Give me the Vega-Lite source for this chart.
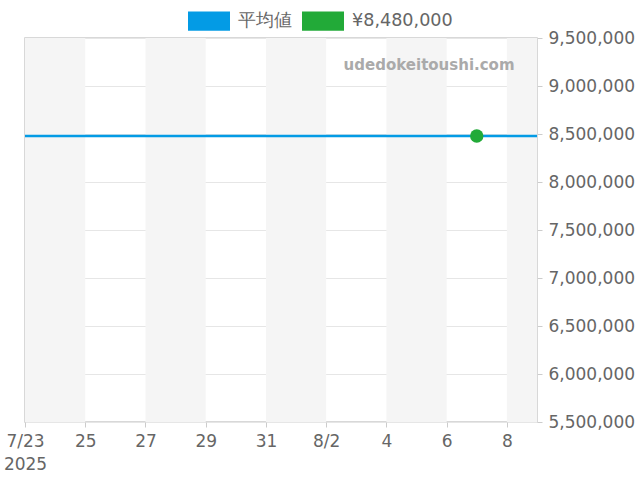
{
  "$schema": "https://vega.github.io/schema/vega-lite/v6.json",
  "width": 512,
  "height": 384,
  "autosize": {"type": "none"},
  "padding": {"left": 25, "top": 38, "right": 103, "bottom": 58},
  "background": "white",
  "config": {
    "font": "DejaVu Sans",
    "view": {"stroke": "#cccccc", "strokeWidth": 1.5},
    "axis": {
      "labelFont": "DejaVu Sans",
      "labelFontSize": 17,
      "labelColor": "#666666",
      "tickColor": "#cccccc",
      "tickSize": 5,
      "domain": false,
      "title": null
    }
  },
  "datasets": {
    "bands": [
      {"start": "2025-07-23T00:00", "end": "2025-07-25T00:00"},
      {"start": "2025-07-27T00:00", "end": "2025-07-29T00:00"},
      {"start": "2025-07-31T00:00", "end": "2025-08-02T00:00"},
      {"start": "2025-08-04T00:00", "end": "2025-08-06T00:00"},
      {"start": "2025-08-08T00:00", "end": "2025-08-09T00:00"}
    ],
    "average": [
      {"date": "2025-07-23T00:00", "price": 8480000},
      {"date": "2025-08-09T00:00", "price": 8480000}
    ],
    "sales": [
      {"date": "2025-08-07T00:00", "price": 8480000}
    ],
    "watermark": [
      {"label": "udedokeitoushi.com"}
    ]
  },
  "layer": [
    {
      "data": {"name": "bands"},
      "mark": {"type": "rect", "fill": "#f5f5f5", "opacity": 1},
      "encoding": {
        "x": {
          "field": "start",
          "type": "temporal",
          "scale": {"domain": [{"year": 2025, "month": 7, "date": 23}, {"year": 2025, "month": 8, "date": 9}]},
          "axis": {
            "grid": false,
            "values": [
              {"year": 2025, "month": 7, "date": 23},
              {"year": 2025, "month": 7, "date": 25},
              {"year": 2025, "month": 7, "date": 27},
              {"year": 2025, "month": 7, "date": 29},
              {"year": 2025, "month": 7, "date": 31},
              {"year": 2025, "month": 8, "date": 2},
              {"year": 2025, "month": 8, "date": 4},
              {"year": 2025, "month": 8, "date": 6},
              {"year": 2025, "month": 8, "date": 8}
            ],
            "labelExpr": "month(datum.value) == 6 && date(datum.value) == 23 ? ['7/23', '2025'] : (date(datum.value) <= 2 ? timeFormat(datum.value, '%-m/%-d') : timeFormat(datum.value, '%-d'))",
            "labelPadding": 6,
            "labelLineHeight": 23,
            "labelBaseline": "top",
            "labelFlush": false
          }
        },
        "x2": {"field": "end"}
      }
    },
    {
      "data": {"name": "average"},
      "mark": {"type": "line", "strokeWidth": 2.5},
      "encoding": {
        "x": {"field": "date", "type": "temporal"},
        "y": {
          "field": "price",
          "type": "quantitative",
          "scale": {"domain": [5500000, 9500000], "nice": false, "zero": false},
          "axis": {
            "orient": "right",
            "values": [5500000, 6000000, 6500000, 7000000, 7500000, 8000000, 8500000, 9000000, 9500000],
            "format": ",.0f",
            "gridColor": "#e6e6e6",
            "labelPadding": 6,
            "labelFlush": false
          }
        },
        "color": {
          "datum": "平均値",
          "type": "nominal",
          "scale": {"domain": ["平均値", "¥8,480,000"], "range": ["#039be5", "#22aa38"]},
          "legend": {
            "title": null,
            "orient": "none",
            "direction": "horizontal",
            "legendX": 163,
            "legendY": -38,
            "symbolType": "M-1,-0.46H1V0.46H-1Z",
            "symbolSize": 1764,
            "symbolStrokeWidth": 0,
            "labelFont": "DejaVu Sans",
            "labelFontSize": 17.6,
            "labelColor": "#666666",
            "labelOffset": 8,
            "columnPadding": 10,
            "encode": {
              "symbols": {
                "update": {
                  "fill": {"scale": "color", "field": "value"},
                  "fillOpacity": {"value": 1},
                  "strokeWidth": {"value": 0}
                }
              }
            }
          }
        }
      }
    },
    {
      "data": {"name": "sales"},
      "mark": {"type": "point", "filled": true, "size": 180, "opacity": 1},
      "encoding": {
        "x": {"field": "date", "type": "temporal"},
        "y": {"field": "price", "type": "quantitative"},
        "color": {"datum": "¥8,480,000", "type": "nominal"}
      }
    },
    {
      "data": {"name": "watermark"},
      "mark": {
        "type": "text",
        "font": "DejaVu Sans",
        "fontWeight": "bold",
        "fontSize": 15,
        "color": "#aaaaaa",
        "align": "center",
        "baseline": "middle"
      },
      "encoding": {
        "text": {"field": "label"},
        "x": {"datum": {"year": 2025, "month": 8, "date": 5, "hours": 10}, "type": "temporal"},
        "y": {"datum": 9219000, "type": "quantitative"}
      }
    }
  ]
}
